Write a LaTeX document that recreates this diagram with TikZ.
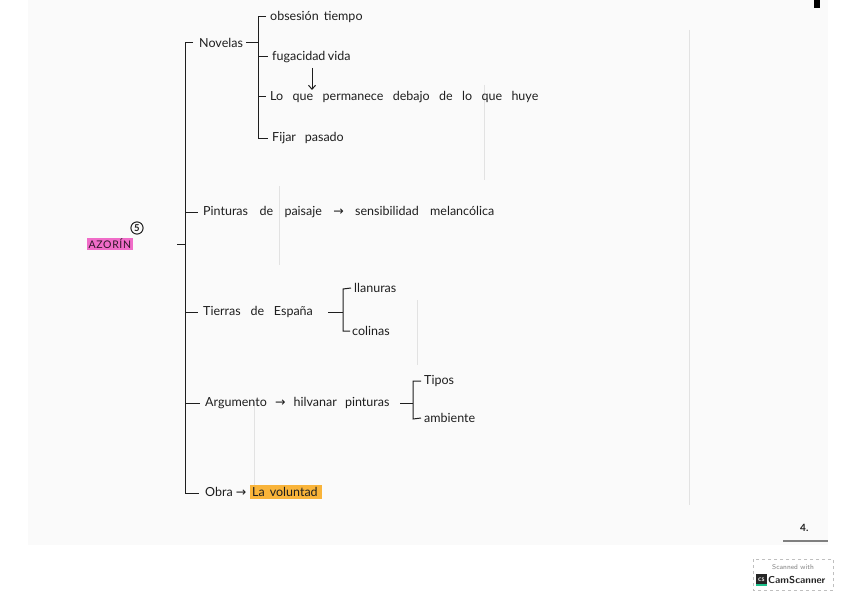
\documentclass[tikz,border=0pt]{standalone}
\usepackage{fontspec}
\setmainfont{Lato}
\newfontfamily\sym{DejaVu Sans}
\usetikzlibrary{arrows.meta}
\definecolor{ink}{HTML}{1E1E1E}
\definecolor{pinkhl}{HTML}{F06CC8}
\definecolor{orangehl}{HTML}{F9B43A}
\definecolor{bleed}{HTML}{E2E2E2}
\definecolor{csgreen}{HTML}{1DC28C}
\newcommand\hw[2]{\hbox to #1pt{\spaceskip=2.5pt plus 1fil\relax #2\hfil}}
\newcommand\arr{{\sym\char"2192}}
\tikzset{
  txt/.style={anchor=west, inner sep=0pt, text=ink, font=\fontsize{12.5}{14}\selectfont},
  ln/.style={draw=ink, line width=1pt},
  bl/.style={draw=bleed, line width=0.8pt}
}
\begin{document}
\begin{tikzpicture}[x=1pt,y=-1pt]
\useasboundingbox (0,0) rectangle (848,599);
\fill[white] (0,0) rectangle (848,599);
\fill[gray!4] (28,0) rectangle (828,545);
% bleed-through brackets (faint)
\draw[bl] (689,30) -- (689,505);
\draw[bl] (484,85) -- (484,180);
\draw[bl] (279,186) -- (279,265);
\draw[bl] (417,300) -- (417,365);
\draw[bl] (254,402) -- (254,490);
% top-right mark
\fill[black] (814,0) rectangle (820,8);

% main tree
\node[txt] (novelas) at (199,43) {\hw{44}{Novelas}};
\node[txt] (obsesion) at (270,17) {\hw{95}{obsesión tiempo}};
\node[txt] (fugacidad) at (272,57) {\hw{75}{fugacidad vida}};
\node[txt] (permanece) at (270,97) {\hw{275}{Lo que permanece debajo de lo que huye}};
\node[txt] (fijar) at (272,138) {\hw{78}{Fijar pasado}};
\node[txt] (pinturas) at (203,212) {\hw{300}{Pinturas de paisaje \arr\ sensibilidad melancólica}};
\node[txt, fill=pinkhl, inner sep=1.5pt, text=black!80!pinkhl, font=\fontsize{10.5}{11}\selectfont\addfontfeatures{LetterSpace=6}] (azorin) at (87,244) {AZORÍN};
\node[draw=ink, circle, line width=1pt, inner sep=1.2pt, text=ink, font=\fontsize{9.5}{10}\selectfont\bfseries] (cinco) at (137,228) {5};
\node[txt] (tierras) at (203,312) {\hw{117}{Tierras de España}};
\node[txt] (llanuras) at (354,288) {llanuras};
\node[txt] (colinas) at (352,331) {colinas};
\node[txt] (argumento) at (205,403) {\hw{190}{Argumento \arr\ hilvanar pinturas}};
\node[txt] (tipos) at (424,381) {Tipos};
\node[txt] (ambiente) at (424,418) {ambiente};
\node[txt] (obra) at (205,492) {Obra \arr};
\node[txt, fill=orangehl, inner sep=2pt] (voluntad) at (250,492) {\hw{68}{La voluntad}};

% main bracket
\coordinate (mtop) at (185,43);
\coordinate (mbot) at (185,493);
\draw[ln] (novelas.west) ++(-6,0) -- (mtop) -- (mbot) -- ([xshift=-6pt]obra.west |- mbot);
\draw[ln] (185,212) -- ([xshift=-5pt]pinturas.west);
\draw[ln] (185,312) -- ([xshift=-5pt]tierras.west);
\draw[ln] (185,403) -- ([xshift=-5pt]argumento.west);
\draw[ln] (185,244) -- (177,244);

% Novelas bracket
\coordinate (nb) at (258,43);
\draw[ln] ([xshift=3pt]novelas.east) -- (nb);
\draw[ln] ([xshift=-4pt]obsesion.west) -- (258,17) -- (258,138) -- ([xshift=-4pt]fijar.west);
\draw[ln] (258,57) -- ([xshift=-4pt]fugacidad.west);
\draw[ln] (258,97) -- ([xshift=-4pt]permanece.west);
\draw[ln, -{Straight Barb[length=4pt,width=7pt]}] (312,68) -- (312,90);

% Tierras bracket
\draw[ln] ([xshift=8pt]tierras.east) -- (343,312);
\draw[ln] ([xshift=-3pt]llanuras.west) -- (343,289) -- (343,331) -- ([xshift=-2pt]colinas.west);

% Argumento bracket
\draw[ln] ([xshift=5pt]argumento.east) -- (413,403);
\draw[ln] ([xshift=-3pt]tipos.west) -- (413,381) -- (413,419) -- ([xshift=-3pt]ambiente.west);

% page number
\node[txt, font=\fontsize{10}{12}\selectfont\bfseries] (pagenum) at (800,528) {4.};
\draw[draw=gray, line width=1.2pt] (783,541) -- (828,541);

% CamScanner badge
\draw[draw=gray!50, dashed, line width=0.5pt] (753,559) rectangle (833,590);
\node[font=\sffamily\fontsize{7}{8}\selectfont, text=gray] (scanned) at (793,567) {Scanned with};
\fill[black!85] (756,574) rectangle (767,586);
\fill[csgreen] (756,584) rectangle (767,586);
\node[font=\sffamily\bfseries\fontsize{5}{5}\selectfont, text=white] (cs) at (761.5,579.5) {CS};
\node[anchor=west, inner sep=0pt, font=\sffamily\bfseries\fontsize{10}{11}\selectfont, text=black!85] (camscanner) at (768,580) {CamScanner};
\end{tikzpicture}
\end{document}
